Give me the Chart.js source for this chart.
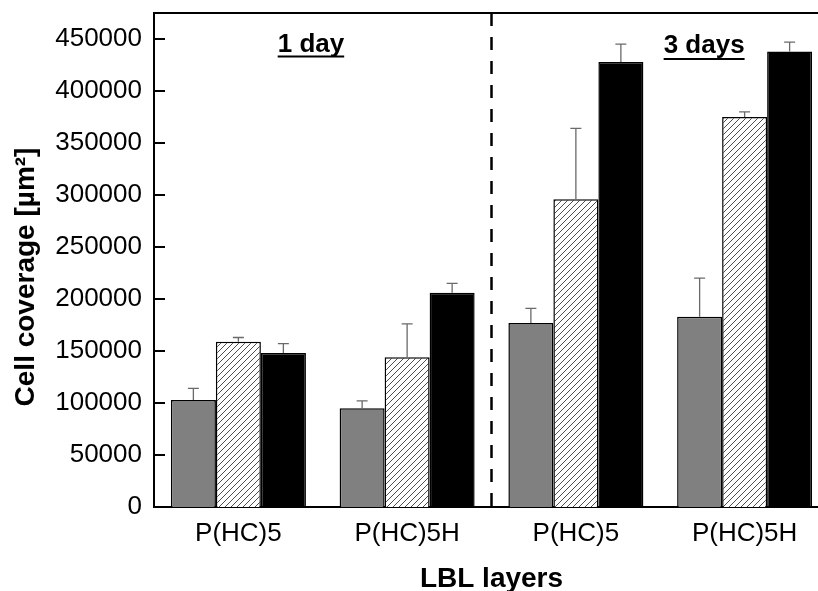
<!DOCTYPE html>
<html>
<head>
<meta charset="utf-8">
<script src="https://cdn.jsdelivr.net/npm/chart.js@4"></script>
<style>
  html, body { margin: 0; padding: 0; overflow: hidden; background: #fff; }
  #wrap { width: 840px; height: 591px; }
</style>
</head>
<body>
<div id="wrap"><canvas id="c" width="840" height="591"></canvas></div>
<script>
var categories = ["P(HC)5", "P(HC)5H", "P(HC)5", "P(HC)5H"];

var grayValues = [103000, 95000, 177000, 183000];
var grayErrors = [11000, 7000, 14000, 37000];

var hatchValues = [159000, 144000, 296000, 375000];
var hatchErrors = [4000, 32000, 68000, 5000];

var blackValues = [148000, 206000, 428000, 438000];
var blackErrors = [9000, 9000, 17000, 9000];

var yTicks = [0, 50000, 100000, 150000, 200000, 250000, 300000, 350000, 400000, 450000];
var yMax = 475000;
var periodLabels = ["1 day", "3 days"];

var FONT = "'Liberation Sans', Arial, sans-serif";
Chart.defaults.font.family = FONT;
Chart.defaults.color = "#000";

// diagonal hatch fill
function makeHatch() {
    var p = document.createElement("canvas");
    p.width = 6;
    p.height = 6;
    var g = p.getContext("2d");
    g.fillStyle = "#fff";
    g.fillRect(0, 0, 6, 6);
    g.strokeStyle = "#3a3a3a";
    g.lineWidth = 0.9;
    g.beginPath();
    g.moveTo(0, 6); g.lineTo(6, 0);
    g.moveTo(-1, 1); g.lineTo(1, -1);
    g.moveTo(5, 7); g.lineTo(7, 5);
    g.stroke();
    return g.createPattern(p, "repeat");
}

var ctx = document.getElementById("c").getContext("2d");
var errorSets = [grayErrors, hatchErrors, blackErrors];

var extras = {
    id: "extras",
    afterDatasetsDraw: function (chart) {
        var c = chart.ctx;
        var area = chart.chartArea;
        var xs = chart.scales.x;
        var ys = chart.scales.y;
        c.save();

        // error bars (upper only)
        c.strokeStyle = "#6a6a6a";
        c.lineWidth = 1.3;
        chart.data.datasets.forEach(function (ds, i) {
            var meta = chart.getDatasetMeta(i);
            meta.data.forEach(function (bar, j) {
                var top = ys.getPixelForValue(ds.data[j] + errorSets[i][j]);
                c.beginPath();
                c.moveTo(bar.x, bar.y);
                c.lineTo(bar.x, top);
                c.moveTo(bar.x - 5.5, top);
                c.lineTo(bar.x + 5.5, top);
                c.stroke();
            });
        });

        // dashed separator between the two periods
        c.strokeStyle = "#000";
        c.lineWidth = 2.5;
        c.setLineDash([13, 11]);
        var sx = xs.getPixelForValue(1.5);
        c.beginPath();
        c.moveTo(sx, area.top);
        c.lineTo(sx, area.bottom);
        c.stroke();
        c.setLineDash([]);

        // frame top + right
        c.lineWidth = 2;
        c.beginPath();
        c.moveTo(area.left, area.top);
        c.lineTo(area.right, area.top);
        c.lineTo(area.right, area.bottom);
        c.stroke();

        // inward y ticks
        for (var k = 1; k < yTicks.length; k++) {
            var py = Math.round(ys.getPixelForValue(yTicks[k]));
            c.beginPath();
            c.moveTo(area.left, py);
            c.lineTo(area.left + 11, py);
            c.stroke();
        }

        // period labels, bold and underlined
        c.font = "bold 26px " + FONT;
        c.fillStyle = "#000";
        c.textAlign = "center";
        c.textBaseline = "alphabetic";
        var spots = [[xs.getPixelForValue(0.43), area.top + 39, 4.5], [xs.getPixelForValue(2.76), area.top + 40, 6]];
        periodLabels.forEach(function (t, k) {
            var px = spots[k][0], py = spots[k][1];
            c.fillText(t, px, py);
            var w = c.measureText(t).width;
            c.beginPath();
            c.moveTo(px - w / 2, py + spots[k][2]);
            c.lineTo(px + w / 2, py + spots[k][2]);
            c.stroke();
        });

        // y axis title
        c.save();
        c.translate(26, 277);
        c.rotate(-Math.PI / 2);
        c.font = "bold 28px " + FONT;
        c.textBaseline = "middle";
        c.fillText("Cell coverage [\u00b5m\u00b2]", 0, 0);
        c.restore();

        c.restore();
    }
};

var chart = new Chart(ctx, {
    type: "bar",
    data: {
        labels: categories,
        datasets: [
            { label: "gray", data: grayValues, backgroundColor: "#808080", borderColor: "#000", borderWidth: 1.5 },
            { label: "hatched", data: hatchValues, backgroundColor: makeHatch(), borderColor: "#000", borderWidth: 1.5 },
            { label: "black", data: blackValues, backgroundColor: "#000", borderColor: "#000", borderWidth: 1.5 }
        ]
    },
    options: {
        responsive: false,
        animation: false,
        devicePixelRatio: 1,
        layout: { padding: { top: 13, right: 11, left: 0, bottom: 0 } },
        plugins: { legend: { display: false }, tooltip: { enabled: false } },
        datasets: { bar: { categoryPercentage: 0.8, barPercentage: 1.0 } },
        scales: {
            x: {
                offset: true,
                grid: { display: false, drawTicks: false },
                border: { display: true, color: "#000", width: 2 },
                ticks: { font: { size: 26 }, color: "#000", padding: 11 },
                title: { display: true, text: "LBL layers", font: { size: 28, weight: "bold" }, color: "#000", padding: { top: 0, bottom: -5 } },
                afterFit: function (s) { s.height = 84; s.paddingLeft = 0; s.paddingRight = 0; }
            },
            y: {
                min: 0,
                max: yMax,
                grid: { display: false, drawTicks: false },
                border: { display: true, color: "#000", width: 2 },
                ticks: {
                    stepSize: 50000, font: { size: 26 }, color: "#000", padding: 12,
                    callback: function (v) { return String(v); }
                },
                afterBuildTicks: function (s) {
                    s.ticks = yTicks.map(function (v) { return { value: v }; });
                },
                afterFit: function (s) { s.width = 154; s.paddingTop = 0; s.paddingBottom = 0; }
            }
        }
    },
    plugins: [extras]
});
</script>
</body>
</html>
